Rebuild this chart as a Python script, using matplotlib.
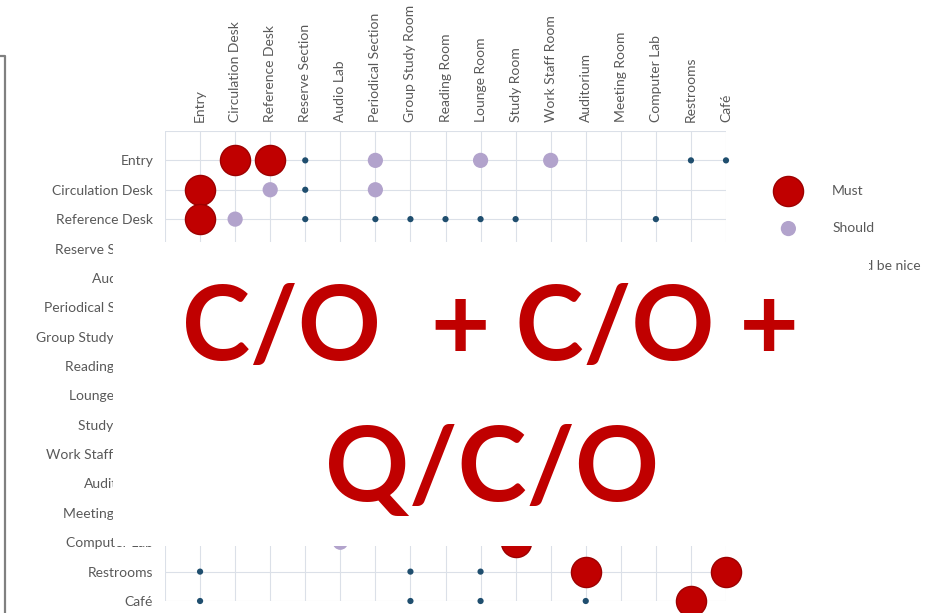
import numpy as np
import matplotlib
matplotlib.use("Agg")
import matplotlib.pyplot as plt
from matplotlib.patches import Rectangle
from matplotlib.lines import Line2D

# spaces, in the order used on both axes
spaces = ["Entry", "Circulation Desk", "Reference Desk", "Reserve Section", "Audio Lab",
          "Periodical Section", "Group Study Room", "Reading Room", "Lounge Room", "Study Room",
          "Work Staff Room", "Auditorium", "Meeting Room", "Computer Lab", "Restrooms", "Café"]

# adjacency pairs (matrix is symmetric)
must_pairs = [("Entry", "Circulation Desk"), ("Entry", "Reference Desk"),
              ("Computer Lab", "Study Room"), ("Restrooms", "Auditorium"), ("Restrooms", "Café")]
should_pairs = [("Entry", "Periodical Section"), ("Entry", "Lounge Room"), ("Entry", "Work Staff Room"),
                ("Circulation Desk", "Reference Desk"), ("Circulation Desk", "Periodical Section"),
                ("Computer Lab", "Audio Lab")]
nice_pairs = [("Entry", "Reserve Section"), ("Entry", "Restrooms"), ("Entry", "Café"),
              ("Circulation Desk", "Reserve Section"), ("Reference Desk", "Reserve Section"),
              ("Reference Desk", "Periodical Section"), ("Reference Desk", "Group Study Room"),
              ("Reference Desk", "Reading Room"), ("Reference Desk", "Lounge Room"),
              ("Reference Desk", "Study Room"), ("Reference Desk", "Computer Lab"),
              ("Restrooms", "Group Study Room"), ("Restrooms", "Lounge Room"),
              ("Café", "Group Study Room"), ("Café", "Lounge Room"), ("Café", "Auditorium")]

levels = ["Must", "Should", "Would be nice"]
overlay_lines = ["C/O  + C/O +", "Q/C/O"]


def to_xy(pairs):
    """Both directions of each pair -> column / row indices."""
    xs, ys = [], []
    for a, b in pairs:
        ia, ib = spaces.index(a), spaces.index(b)
        xs += [ib, ia]
        ys += [ia, ib]
    return xs, ys


W, H = 934, 613
fig = plt.figure(figsize=(W / 100, H / 100), dpi=100)
fig.patch.set_facecolor("white")

ax = fig.add_axes([165 / W, 1 - 601 / H, (726 - 165) / W, (601 - 131) / H])
ax.set_xlim(-1, 15)
ax.set_ylim(15, -1)

grey = "#595959"
ax.set_xticks(np.arange(-1, 16))
ax.set_xticklabels([""] + spaces, rotation=90, fontsize=10, color=grey, family="Lato")
ax.set_yticks(np.arange(-1, 16))
ax.set_yticklabels([""] + spaces, fontsize=10, color=grey, family="Lato")
ax.xaxis.tick_top()
ax.tick_params(length=0)
ax.tick_params(axis="x", pad=6.5)
ax.tick_params(axis="y", pad=8.5)
ax.grid(True, color="#dbe0e8", lw=0.8)
ax.set_axisbelow(True)
for s in ax.spines.values():
    s.set_visible(False)

styles = [
    (must_pairs, dict(s=470, c="#c00000", edgecolors="#9e0000", linewidths=1.0)),
    (should_pairs, dict(s=120, c="#b2a3cc", edgecolors="none")),
    (nice_pairs, dict(s=20, c="#1f4e6e", edgecolors="none")),
]
handles = []
for (pairs, kw), lab in zip(styles, levels):
    xs, ys = to_xy(pairs)
    h = ax.scatter(xs, ys, clip_on=False, zorder=3, label=lab, **kw)
    handles.append(h)

fig.legend(handles=handles, labels=levels, loc="upper left",
           bbox_to_anchor=(762 / W, 1 - 172 / H), frameon=False,
           labelspacing=1.85, handletextpad=2.15, markerscale=1.0,
           prop={"family": "Lato", "size": 10}, labelcolor=grey)

# left border of the slide
fig.add_artist(Line2D([5 / W, 5 / W, 0], [0, 1 - 56 / H, 1 - 56 / H],
                      transform=fig.transFigure, color="#808080", lw=1.6))

# white overlay box with big red text
fig.add_artist(Rectangle((113 / W, 1 - 546 / H), (869 - 113) / W, (546 - 242) / H,
                         transform=fig.transFigure, facecolor="white",
                         edgecolor="none", zorder=10))
fig.text(491 / W, 1 - 360 / H, overlay_lines[0], ha="center", va="baseline",
         fontsize=74, fontweight="bold", color="#c00000", family="Lato", zorder=11)
fig.text(492 / W, 1 - 501 / H, overlay_lines[1], ha="center", va="baseline",
         fontsize=75, fontweight="bold", color="#c00000", family="Lato", zorder=11)

fig.savefig("out.png", dpi=100)
